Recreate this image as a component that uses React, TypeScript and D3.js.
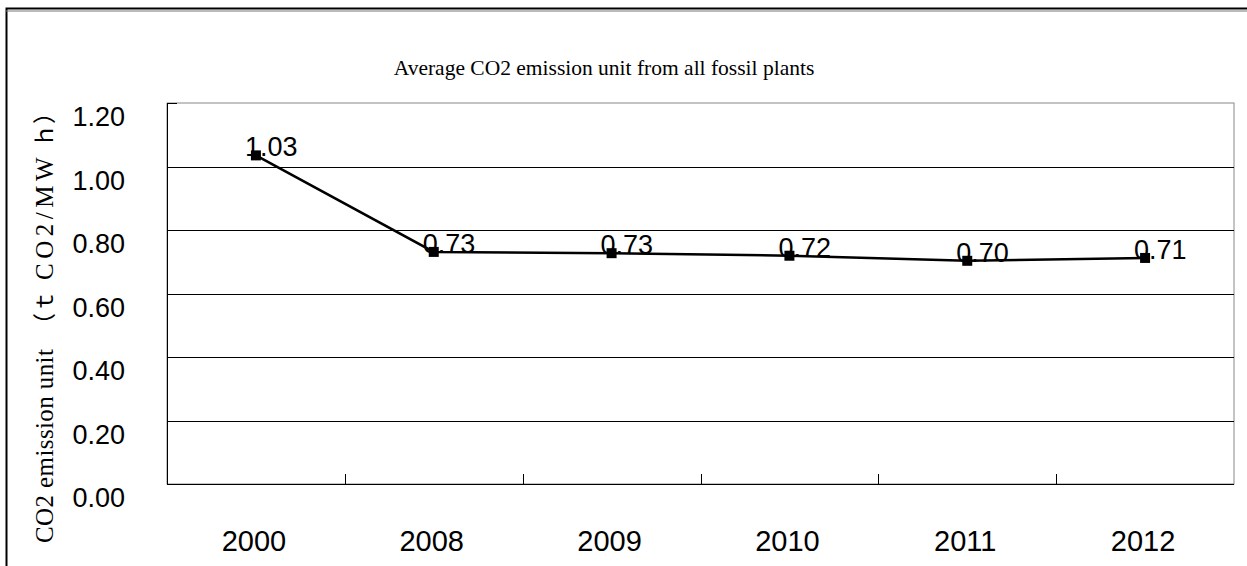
import React from "react";
import * as d3 from "d3";

const categories = ["2000", "2008", "2009", "2010", "2011", "2012"];
const values = [1.035, 0.731, 0.727, 0.719, 0.703, 0.712];
const labels = ["1.03", "0.73", "0.73", "0.72", "0.70", "0.71"];
const yTicks = [0, 0.2, 0.4, 0.6, 0.8, 1.0, 1.2];
const title = "Average CO2 emission unit from all fossil plants";
const yTitleA = "CO2 emission unit";
const yTitleB = ["（ｔ", "CO2/MW", "ｈ）"];

const W = 1247;
const H = 566;
const L = 167, R = 1234, T = 103, B = 484;

export default function App() {
  const x = d3.scaleBand<string>().domain(categories).range([L, R]);
  const y = d3.scaleLinear().domain([0, 1.2]).range([B, T]);
  const line = d3
    .line<number>()
    .x((_, i) => (x(categories[i]) as number) + x.bandwidth() / 2)
    .y((d) => y(d));
  const sans = "Liberation Sans, Arial, sans-serif";
  const serif = "Liberation Serif, Times New Roman, serif";
  const cjk = "Noto Sans CJK JP, sans-serif";
  return (
    <svg
      width={W}
      height={H}
      style={{ position: "absolute", left: 0, top: 0, background: "#fff" }}
    >
      <rect x={0} y={0} width={W} height={H} fill="#fff" />
      {/* outer frame */}
      <rect x={6.5} y={8.5} width={W + 20} height={H + 20} fill="none" stroke="#000" strokeWidth={2} />
      <line x1={6} x2={W} y1={11} y2={11} stroke="#777" strokeWidth={1} />
      {/* title */}
      <text x={604} y={75} textAnchor="middle" fontFamily={serif} fontSize={21.5} fill="#000">
        {title}
      </text>
      {/* plot border */}
      <rect x={L} y={T} width={R - L} height={B - T} fill="none" stroke="#888" strokeWidth={1} />
      {/* gridlines */}
      {yTicks.slice(1, -1).map((t) => (
        <line key={t} x1={L} x2={R} y1={Math.round(y(t)) + 0.5} y2={Math.round(y(t)) + 0.5} stroke="#000" strokeWidth={1} />
      ))}
      {/* axes */}
      <line x1={L + 0.5} x2={L + 0.5} y1={T} y2={B} stroke="#000" strokeWidth={1} />
      <line x1={L} x2={R} y1={B + 0.5} y2={B + 0.5} stroke="#000" strokeWidth={1} />
      {yTicks.map((t) => (
        <line key={"yt" + t} x1={L} x2={L + 10} y1={Math.round(y(t)) + 0.5} y2={Math.round(y(t)) + 0.5} stroke="#000" strokeWidth={1} />
      ))}
      {categories.slice(1).map((c) => (
        <line key={"xt" + c} x1={Math.round(x(c) as number) + 0.5} x2={Math.round(x(c) as number) + 0.5} y1={B - 10} y2={B} stroke="#000" strokeWidth={1} />
      ))}
      {/* y tick labels */}
      {yTicks.map((t) => (
        <text key={"yl" + t} x={125} y={y(t) + 23} textAnchor="end" fontFamily={sans} fontSize={27} fill="#000">
          {t.toFixed(2)}
        </text>
      ))}
      {/* x tick labels */}
      {categories.map((c) => (
        <text key={"xl" + c} x={(x(c) as number) + x.bandwidth() / 2 - 2} y={551} textAnchor="middle" fontFamily={sans} fontSize={29} fill="#000">
          {c}
        </text>
      ))}
      {/* y title */}
      <g transform="translate(53, 0) rotate(-90)">
        <text x={-543} y={0} fontFamily={serif} fontSize={25} letterSpacing={0.4} fill="#000">
          {yTitleA}
        </text>
        <text x={-336} y={0} fill="#000">
          <tspan fontFamily={cjk} fontSize={23}>{yTitleB[0]}</tspan>
          <tspan fontFamily={serif} fontSize={25} letterSpacing={4.5} dx={10}>{yTitleB[1]}</tspan>
          <tspan fontFamily={cjk} fontSize={23} dx={6}>{yTitleB[2]}</tspan>
        </text>
      </g>
      {/* line */}
      <path d={line(values) || ""} fill="none" stroke="#000" strokeWidth={2.5} />
      {values.map((v, i) => {
        const cx = (x(categories[i]) as number) + x.bandwidth() / 2;
        return <rect key={"m" + i} x={cx - 5} y={y(v) - 5} width={10} height={10} fill="#000" />;
      })}
      {values.map((v, i) => {
        const cx = (x(categories[i]) as number) + x.bandwidth() / 2;
        return (
          <text key={"dl" + i} x={cx - 11} y={y(v) + 1} fontFamily={sans} fontSize={27} fill="#000">
            {labels[i]}
          </text>
        );
      })}
    </svg>
  );
}
